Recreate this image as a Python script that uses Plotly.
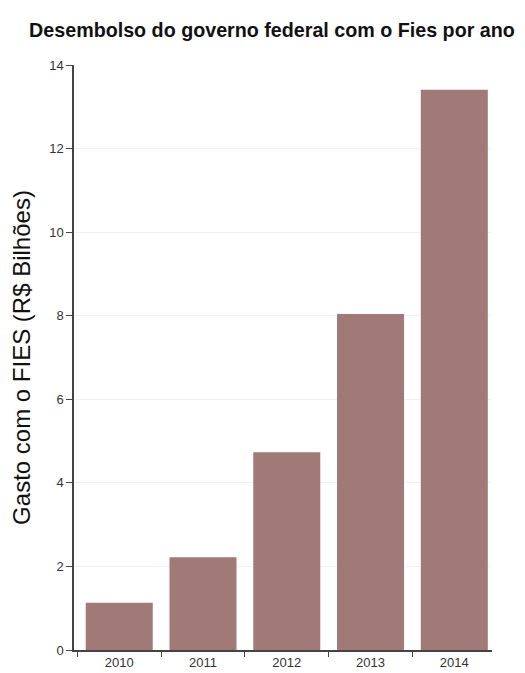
import plotly.graph_objects as go

years = ["2010", "2011", "2012", "2013", "2014"]
gasto = [1.13, 2.22, 4.73, 8.04, 13.41]
y_ticks = [0, 2, 4, 6, 8, 10, 12, 14]

fig = go.Figure(go.Bar(x=years, y=gasto, marker=dict(color="#a17977", line=dict(width=0))))

fig.update_layout(
    width=525, height=673,
    margin=dict(l=74, r=33, t=65, b=23, autoexpand=False),
    plot_bgcolor="white", paper_bgcolor="white",
    font=dict(family="Liberation Sans, Arial, sans-serif", color="#222"),
    bargap=0.2,
    showlegend=False,
    title=dict(text="<b>Desembolso do governo federal com o Fies por ano</b>",
               x=0.518, xanchor="center", y=1 - 30/673, yanchor="middle",
               yref="container", font=dict(size=19.7, color="#111")),
)
fig.update_xaxes(range=[-0.54, 4.45], showline=True, linecolor="#444", linewidth=1.5,
                 ticks="outside", ticklen=5, tickcolor="#444", tickson="boundaries",
                 tickfont=dict(size=13, color="#333"), showgrid=False, automargin=False)
fig.update_yaxes(range=[0, 14], tickvals=y_ticks, showline=True, linecolor="#444", linewidth=1.5,
                 ticks="outside", ticklen=6, tickcolor="#444",
                 tickfont=dict(size=13, color="#333"), showgrid=True, gridcolor="#f0f0f0",
                 zeroline=False, automargin=False,
                 title=dict(text="Gasto com o FIES (R$ Bilhões)", font=dict(size=24, color="#111"),
                            standoff=12))

fig.write_html("out.html")
